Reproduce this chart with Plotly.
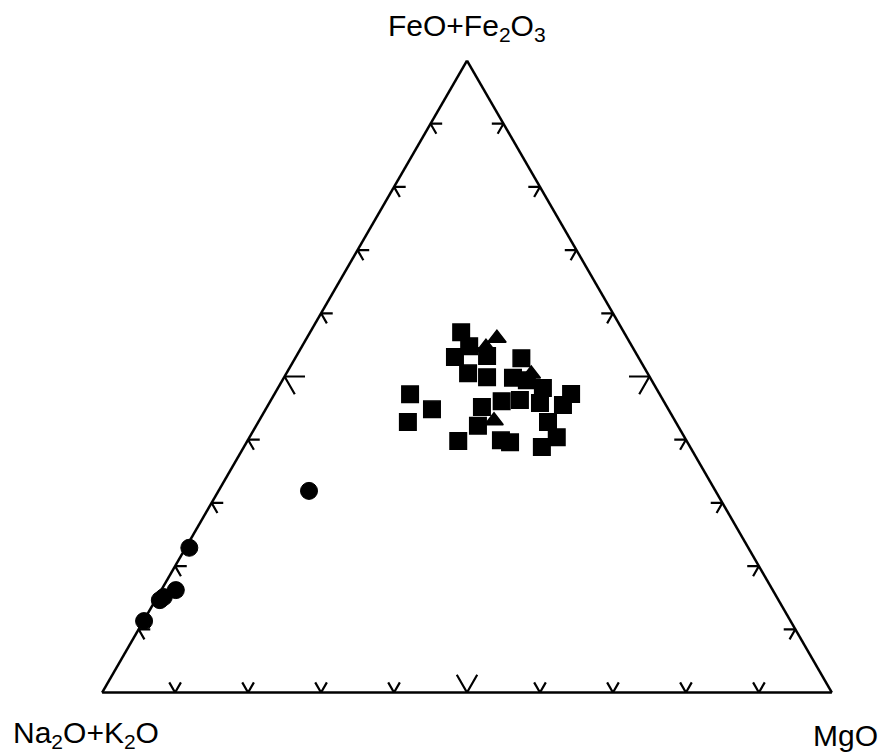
import plotly.graph_objects as go

# ---- data (percent: a = FeO+Fe2O3, b = Na2O+K2O, c = MgO) ----
sq_a = [57.0, 54.8, 53.1, 50.5, 53.2, 49.9, 52.9, 49.8, 49.4, 47.2, 44.8, 42.8, 45.2,
        46.1, 46.3, 48.2, 47.2, 45.8, 45.5, 42.8, 40.4, 38.8, 42.2, 39.8, 39.9, 39.6]
sq_b = [22.3, 22.3, 25.1, 24.6, 20.6, 22.3, 16.1, 18.8, 17.1, 34.2, 32.4, 36.7, 25.4,
        22.2, 19.6, 15.5, 12.1, 17.1, 14.1, 17.5, 17.5, 20.3, 27.4, 31.3, 25.4, 24.3]
sq_c = [20.7, 22.9, 21.8, 24.9, 26.1, 27.8, 31.0, 31.4, 33.5, 18.6, 22.8, 20.5, 29.5,
        31.7, 34.1, 36.3, 40.6, 37.1, 40.4, 39.7, 42.1, 40.8, 30.4, 28.9, 34.7, 36.1]

tri_a = [54.7, 56.1, 43.0, 50.4]
tri_b = [20.1, 17.9, 24.8, 16.0]
tri_c = [25.3, 26.1, 32.2, 33.6]

cir_a = [31.9, 22.9, 16.2, 15.1, 14.6, 11.3]
cir_b = [55.7, 76.6, 81.8, 84.0, 84.7, 88.6]
cir_c = [12.4, 0.5, 2.0, 0.9, 0.6, 0.1]

tick_values = [10, 20, 30, 40, 50, 60, 70, 80, 90]
major_tick = 50

title_top = "FeO+Fe<sub>2</sub>O<sub>3</sub>"
title_left = "Na<sub>2</sub>O+K<sub>2</sub>O"
title_right = "MgO"

# ---- styles ----
W, H = 883, 753
FONT = "Arial, Liberation Sans, sans-serif"
small_len, big_len = 1.6, 2.8

def px(x):
    return x / W

def py(y):
    return 1 - y / H

# chevron ticks built from tick values
ta, tb, tc = [], [], []
def seg(p0, p1, p2):
    for p in (p0, p1, p2):
        ta.append(p[0]); tb.append(p[1]); tc.append(p[2])
    ta.append(None); tb.append(None); tc.append(None)

for t in tick_values:
    L = big_len if t == major_tick else small_len
    # left edge (c = 0): horizontal arm and down-right arm
    seg((t, 100 - t - L, L), (t, 100 - t, 0), (t - L, 100 - t, L))
    # right edge (b = 0): horizontal arm and down-left arm
    seg((t, L, 100 - t - L), (t, 0, 100 - t), (t - L, L, 100 - t))
    # bottom edge (a = 0): up-left and up-right arms
    seg((L, 100 - t - L, t), (0, 100 - t, t), (L, 100 - t, t - L))

fig = go.Figure()
fig.add_trace(go.Scatterternary(a=ta, b=tb, c=tc, mode="lines",
                                line=dict(color="black", width=2.2),
                                hoverinfo="skip", showlegend=False, connectgaps=False))
fig.add_trace(go.Scatterternary(a=tri_a, b=tri_b, c=tri_c, mode="markers", cliponaxis=False,
                                marker=dict(symbol="triangle-up", size=16, color="black",
                                            line=dict(color="black", width=1.5)),
                                showlegend=False))
fig.add_trace(go.Scatterternary(a=sq_a, b=sq_b, c=sq_c, mode="markers", cliponaxis=False,
                                marker=dict(symbol="square", size=16.5, color="black",
                                            line=dict(color="black", width=1.5)),
                                showlegend=False))
fig.add_trace(go.Scatterternary(a=cir_a, b=cir_b, c=cir_c, mode="markers", cliponaxis=False,
                                marker=dict(symbol="circle", size=17, color="black",
                                            line=dict(color="black", width=1)),
                                showlegend=False))

axis_style = dict(showticklabels=False, ticks="", showgrid=False,
                  linecolor="black", linewidth=2.5, title=dict(text=""))

fig.update_layout(
    width=W, height=H,
    margin=dict(l=0, r=0, t=0, b=0),
    paper_bgcolor="white",
    font=dict(family=FONT, color="black"),
    ternary=dict(
        sum=100,
        domain=dict(x=[px(102), px(832)], y=[py(692.5), py(60.5)]),
        bgcolor="white",
        aaxis=axis_style, baxis=axis_style, caxis=axis_style,
    ),
    annotations=[
        dict(text=title_top, x=px(467), y=py(28), xref="paper", yref="paper",
             showarrow=False, xanchor="center", yanchor="middle", font=dict(size=30)),
        dict(text=title_left, x=px(86), y=py(734), xref="paper", yref="paper",
             showarrow=False, xanchor="center", yanchor="middle", font=dict(size=30)),
        dict(text=title_right, x=px(845), y=py(735), xref="paper", yref="paper",
             showarrow=False, xanchor="center", yanchor="middle", font=dict(size=30)),
    ],
)

fig.write_html("out.html", config={"displayModeBar": False},
               post_script="document.body.style.margin='0';document.body.style.overflow='hidden';")
